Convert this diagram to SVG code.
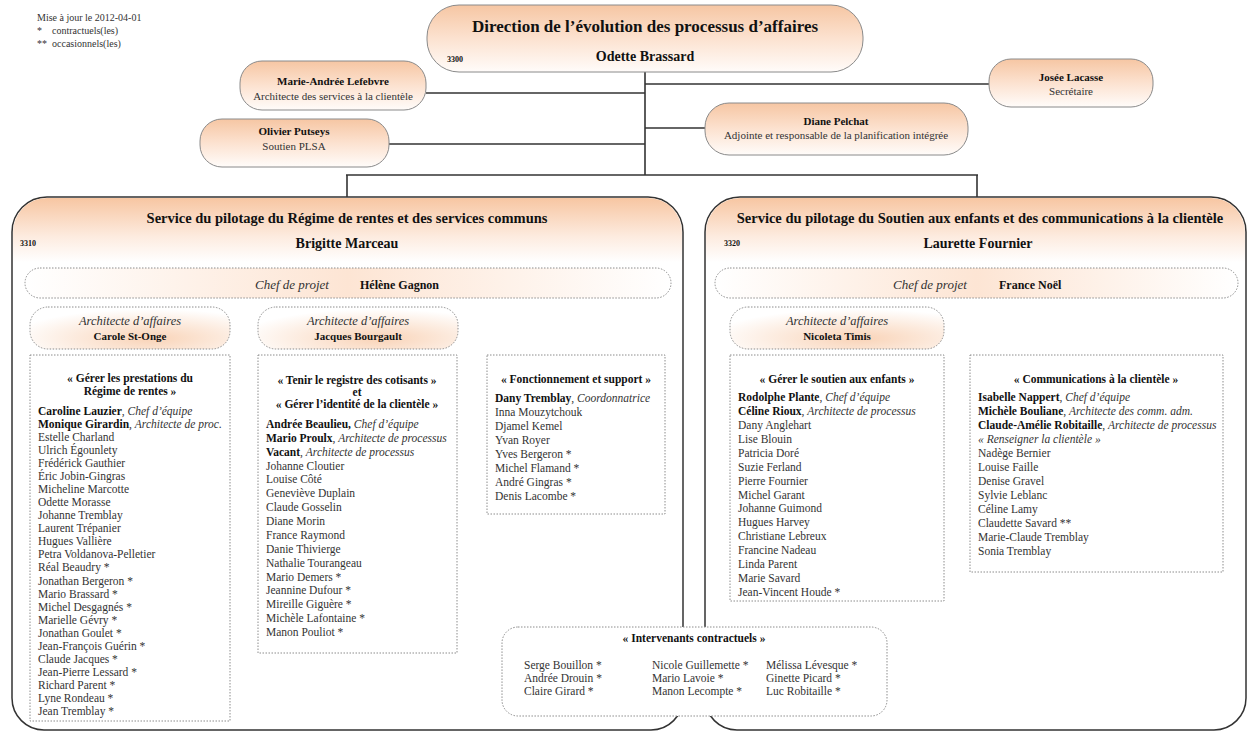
<svg xmlns="http://www.w3.org/2000/svg" width="1248" height="733" viewBox="0 0 1248 733">
<defs>
<linearGradient id="pill" x1="0" y1="0" x2="0" y2="1">
<stop offset="0" stop-color="#f6c6a3"/>
<stop offset="0.5" stop-color="#fce2d0"/>
<stop offset="1" stop-color="#fffcfa"/>
</linearGradient>
<linearGradient id="head" x1="0" y1="0" x2="0" y2="1">
<stop offset="0" stop-color="#f7c6a2"/>
<stop offset="0.6" stop-color="#fdebdf"/>
<stop offset="1" stop-color="#ffffff"/>
</linearGradient>
<linearGradient id="chef" x1="0" y1="0" x2="1" y2="0">
<stop offset="0" stop-color="#ffffff"/>
<stop offset="0.5" stop-color="#fde5d4"/>
<stop offset="1" stop-color="#ffffff"/>
</linearGradient>
<radialGradient id="arch" cx="0.6" cy="0.75" r="0.7">
<stop offset="0" stop-color="#f9d3b7"/>
<stop offset="1" stop-color="#ffffff"/>
</radialGradient>
</defs>
<style>
text{font-family:"Liberation Serif","Times New Roman",serif;fill:#333}
.b{font-weight:bold;fill:#111}
.i{font-style:italic}
.pill{fill:url(#pill);stroke:#8a8a8a;stroke-width:1}
.svc{fill:#fff;stroke:#333;stroke-width:1.5}
.dot{fill:#fff;stroke:#8c8c8c;stroke-width:1;stroke-dasharray:1.5 1.5}
.conn line{stroke:#333;stroke-width:1.6}
.c{text-anchor:middle}
.s11{font-size:11.5px}
.s10{font-size:10px}
</style>
<rect width="1248" height="733" fill="#fff"/>

<g id="legend">
<text class="s10" x="37" y="21">Mise à jour le 2012-04-01</text>
<text class="s10" x="37" y="34">*</text><text class="s10" x="52" y="34">contractuels(les)</text>
<text class="s10" x="37" y="47">**</text><text class="s10" x="52" y="47">occasionnels(les)</text>
</g>

<g class="conn" id="connectors">
<line x1="645" y1="72" x2="645" y2="175"/>
<line x1="346" y1="175" x2="978" y2="175"/>
<line x1="347" y1="175" x2="347" y2="197"/>
<line x1="977" y1="175" x2="977" y2="197"/>
<line x1="426" y1="93" x2="645" y2="93"/>
<line x1="389" y1="144" x2="645" y2="144"/>
<line x1="645" y1="84" x2="989" y2="84"/>
<line x1="645" y1="128" x2="705" y2="128"/>
</g>

<g id="direction">
<rect class="pill" x="427" y="5" width="436" height="67" rx="32"/>
<text class="b c" x="645" y="32" font-size="17">Direction de l’évolution des processus d’affaires</text>
<text class="b c" x="645" y="61" font-size="14">Odette Brassard</text>
<text class="b" x="447" y="62" font-size="8">3300</text>
</g>

<g id="lefebvre">
<rect class="pill" x="240" y="61" width="186" height="49" rx="22"/>
<text class="b c" x="333" y="85" font-size="11">Marie-Andrée Lefebvre</text>
<text class="c" x="333" y="100" font-size="11">Architecte des services à la clientèle</text>
</g>

<g id="putseys">
<rect class="pill" x="200" y="119" width="189" height="48" rx="22"/>
<text class="b c" x="294" y="135" font-size="11">Olivier Putseys</text>
<text class="c" x="294" y="150" font-size="11">Soutien PLSA</text>
</g>

<g id="lacasse">
<rect class="pill" x="989" y="59" width="164" height="48" rx="22"/>
<text class="b c" x="1071" y="81" font-size="11">Josée Lacasse</text>
<text class="c" x="1071" y="95" font-size="11">Secrétaire</text>
</g>

<g id="pelchat">
<rect class="pill" x="705" y="103" width="263" height="52" rx="24"/>
<text class="b c" x="836" y="125" font-size="11">Diane Pelchat</text>
<text class="c" x="836" y="139" font-size="11">Adjointe et responsable de la planification intégrée</text>
</g>

<g id="service3310">
<path class="svc" d="M12,232 A35,35 0 0 1 47,197 L648,197 A35,35 0 0 1 683,232 L683,698 A32,32 0 0 1 651,730 L44,730 A32,32 0 0 1 12,698 Z"/>
<path d="M13,232 A34,34 0 0 1 47,198 L648,198 A34,34 0 0 1 682,232 L682,262 L13,262 Z" fill="url(#head)"/>
<text class="b c" x="347" y="223" font-size="14.5">Service du pilotage du Régime de rentes et des services communs</text>
<text class="b" x="20" y="246" font-size="8">3310</text>
<text class="b c" x="347" y="248" font-size="14">Brigitte Marceau</text>
</g>

<g id="service3320">
<path class="svc" d="M705,232 A35,35 0 0 1 740,197 L1211,197 A35,35 0 0 1 1246,232 L1246,698 A32,32 0 0 1 1214,730 L737,730 A32,32 0 0 1 705,698 Z"/>
<path d="M706,232 A34,34 0 0 1 740,198 L1211,198 A34,34 0 0 1 1245,232 L1245,262 L706,262 Z" fill="url(#head)"/>
<text class="b c" x="980" y="223" font-size="14.5">Service du pilotage du Soutien aux enfants et des communications à la clientèle</text>
<text class="b" x="724" y="246" font-size="8">3320</text>
<text class="b c" x="978" y="248" font-size="14">Laurette Fournier</text>
</g>

<g id="chef-left">
<rect class="dot" x="25" y="268" width="646" height="30" rx="15" style="fill:url(#chef)"/>
<text class="i" x="255" y="289" font-size="13">Chef de projet</text>
<text class="b" x="360" y="289" font-size="12">Hélène Gagnon</text>
</g>

<g id="chef-right">
<rect class="dot" x="715" y="268" width="523" height="30" rx="15" style="fill:url(#chef)"/>
<text class="i" x="893" y="289" font-size="13">Chef de projet</text>
<text class="b" x="999" y="289" font-size="12">France Noël</text>
</g>

<g id="arch-stonge">
<rect class="dot" x="30" y="307" width="200" height="42" rx="18" style="fill:url(#arch)"/>
<text class="i c" x="130" y="325" font-size="12.5">Architecte d’affaires</text>
<text class="b c" x="130" y="340" font-size="11">Carole St-Onge</text>
</g>

<g id="arch-bourgault">
<rect class="dot" x="258" y="307" width="200" height="42" rx="18" style="fill:url(#arch)"/>
<text class="i c" x="358" y="325" font-size="12.5">Architecte d’affaires</text>
<text class="b c" x="358" y="340" font-size="11">Jacques Bourgault</text>
</g>

<g id="arch-timis">
<rect class="dot" x="730" y="307" width="214" height="42" rx="18" style="fill:url(#arch)"/>
<text class="i c" x="837" y="325" font-size="12.5">Architecte d’affaires</text>
<text class="b c" x="837" y="340" font-size="11">Nicoleta Timis</text>
</g>

<g id="prestations">
<rect class="dot" x="30" y="355" width="200" height="366"/>
<text class="b c s11" x="130" y="382">« Gérer les prestations du</text>
<text class="b c s11" x="130" y="395">Régime de rentes »</text>
<text class="s11" x="38" y="415"><tspan class="b">Caroline Lauzier</tspan>, <tspan class="i">Chef d’équipe</tspan><tspan x="38" dy="13.04" class="b">Monique Girardin</tspan>, <tspan class="i">Architecte de proc.</tspan><tspan x="38" dy="13.04">Estelle Charland</tspan><tspan x="38" dy="13.04">Ulrich Égounlety</tspan><tspan x="38" dy="13.04">Frédérick Gauthier</tspan><tspan x="38" dy="13.04">Éric Jobin-Gingras</tspan><tspan x="38" dy="13.04">Micheline Marcotte</tspan><tspan x="38" dy="13.04">Odette Morasse</tspan><tspan x="38" dy="13.04">Johanne Tremblay</tspan><tspan x="38" dy="13.04">Laurent Trépanier</tspan><tspan x="38" dy="13.04">Hugues Vallière</tspan><tspan x="38" dy="13.04">Petra Voldanova-Pelletier</tspan><tspan x="38" dy="13.04">Réal Beaudry *</tspan><tspan x="38" dy="13.04">Jonathan Bergeron *</tspan><tspan x="38" dy="13.04">Mario Brassard *</tspan><tspan x="38" dy="13.04">Michel Desgagnés *</tspan><tspan x="38" dy="13.04">Marielle Gévry *</tspan><tspan x="38" dy="13.04">Jonathan Goulet *</tspan><tspan x="38" dy="13.04">Jean-François Guérin *</tspan><tspan x="38" dy="13.04">Claude Jacques *</tspan><tspan x="38" dy="13.04">Jean-Pierre Lessard *</tspan><tspan x="38" dy="13.04">Richard Parent *</tspan><tspan x="38" dy="13.04">Lyne Rondeau *</tspan><tspan x="38" dy="13.04">Jean Tremblay *</tspan></text>
</g>

<g id="registre">
<rect class="dot" x="258" y="355" width="199" height="298"/>
<text class="b c s11" x="357" y="384">« Tenir le registre des cotisants »</text>
<text class="b c s11" x="357" y="396">et</text>
<text class="b c s11" x="357" y="408">« Gérer l’identité de la clientèle »</text>
<text class="s11" x="266" y="428"><tspan class="b">Andrée Beaulieu,</tspan> <tspan class="i">Chef d’équipe</tspan><tspan x="266" dy="13.87" class="b">Mario Proulx</tspan>, <tspan class="i">Architecte de processus</tspan><tspan x="266" dy="13.87" class="b">Vacant</tspan>, <tspan class="i">Architecte de processus</tspan><tspan x="266" dy="13.87">Johanne Cloutier</tspan><tspan x="266" dy="13.87">Louise Côté</tspan><tspan x="266" dy="13.87">Geneviève Duplain</tspan><tspan x="266" dy="13.87">Claude Gosselin</tspan><tspan x="266" dy="13.87">Diane Morin</tspan><tspan x="266" dy="13.87">France Raymond</tspan><tspan x="266" dy="13.87">Danie Thivierge</tspan><tspan x="266" dy="13.87">Nathalie Tourangeau</tspan><tspan x="266" dy="13.87">Mario Demers *</tspan><tspan x="266" dy="13.87">Jeannine Dufour *</tspan><tspan x="266" dy="13.87">Mireille Giguère *</tspan><tspan x="266" dy="13.87">Michèle Lafontaine *</tspan><tspan x="266" dy="13.87">Manon Pouliot *</tspan></text>
</g>

<g id="fonctionnement">
<rect class="dot" x="487" y="355" width="178" height="159"/>
<text class="b c s11" x="576" y="383">« Fonctionnement et support »</text>
<text class="s11" x="495" y="402"><tspan class="b">Dany Tremblay</tspan>, <tspan class="i">Coordonnatrice</tspan><tspan x="495" dy="14">Inna Mouzytchouk</tspan><tspan x="495" dy="14">Djamel Kemel</tspan><tspan x="495" dy="14">Yvan Royer</tspan><tspan x="495" dy="14">Yves Bergeron *</tspan><tspan x="495" dy="14">Michel Flamand *</tspan><tspan x="495" dy="14">André Gingras *</tspan><tspan x="495" dy="14">Denis Lacombe *</tspan></text>
</g>

<g id="soutien">
<rect class="dot" x="730" y="355" width="214" height="246"/>
<text class="b c s11" x="837" y="383">« Gérer le soutien aux enfants »</text>
<text class="s11" x="738" y="401"><tspan class="b">Rodolphe Plante</tspan>, <tspan class="i">Chef d’équipe</tspan><tspan x="738" dy="13.93" class="b">Céline Rioux</tspan>, <tspan class="i">Architecte de processus</tspan><tspan x="738" dy="13.93">Dany Anglehart</tspan><tspan x="738" dy="13.93">Lise Blouin</tspan><tspan x="738" dy="13.93">Patricia Doré</tspan><tspan x="738" dy="13.93">Suzie Ferland</tspan><tspan x="738" dy="13.93">Pierre Fournier</tspan><tspan x="738" dy="13.93">Michel Garant</tspan><tspan x="738" dy="13.93">Johanne Guimond</tspan><tspan x="738" dy="13.93">Hugues Harvey</tspan><tspan x="738" dy="13.93">Christiane Lebreux</tspan><tspan x="738" dy="13.93">Francine Nadeau</tspan><tspan x="738" dy="13.93">Linda Parent</tspan><tspan x="738" dy="13.93">Marie Savard</tspan><tspan x="738" dy="13.93">Jean-Vincent Houde *</tspan></text>
</g>

<g id="communications">
<rect class="dot" x="970" y="355" width="253" height="217"/>
<text class="b c s11" x="1096" y="383">« Communications à la clientèle »</text>
<text class="s11" x="978" y="401"><tspan class="b">Isabelle Nappert</tspan>, <tspan class="i">Chef d’équipe</tspan><tspan x="978" dy="14" class="b">Michèle Bouliane</tspan>, <tspan class="i">Architecte des comm. adm.</tspan><tspan x="978" dy="14" class="b">Claude-Amélie Robitaille</tspan>, <tspan class="i">Architecte de processus</tspan><tspan x="978" dy="14" class="i">«  Renseigner la clientèle »</tspan><tspan x="978" dy="14">Nadège Bernier</tspan><tspan x="978" dy="14">Louise Faille</tspan><tspan x="978" dy="14">Denise Gravel</tspan><tspan x="978" dy="14">Sylvie Leblanc</tspan><tspan x="978" dy="14">Céline Lamy</tspan><tspan x="978" dy="14">Claudette Savard **</tspan><tspan x="978" dy="14">Marie-Claude Tremblay</tspan><tspan x="978" dy="14">Sonia Tremblay</tspan></text>
</g>

<g id="intervenants">
<rect class="dot" x="502" y="627" width="385" height="89" rx="16"/>
<text class="b c s11" x="694" y="642">« Intervenants contractuels »</text>
<text class="s11" x="524" y="669">Serge Bouillon *<tspan x="524" dy="13">Andrée Drouin *</tspan><tspan x="524" dy="13">Claire Girard *</tspan></text>
<text class="s11" x="652" y="669">Nicole Guillemette *<tspan x="652" dy="13">Mario Lavoie *</tspan><tspan x="652" dy="13">Manon Lecompte *</tspan></text>
<text class="s11" x="766" y="669">Mélissa Lévesque *<tspan x="766" dy="13">Ginette Picard *</tspan><tspan x="766" dy="13">Luc Robitaille *</tspan></text>
</g>
</svg>
